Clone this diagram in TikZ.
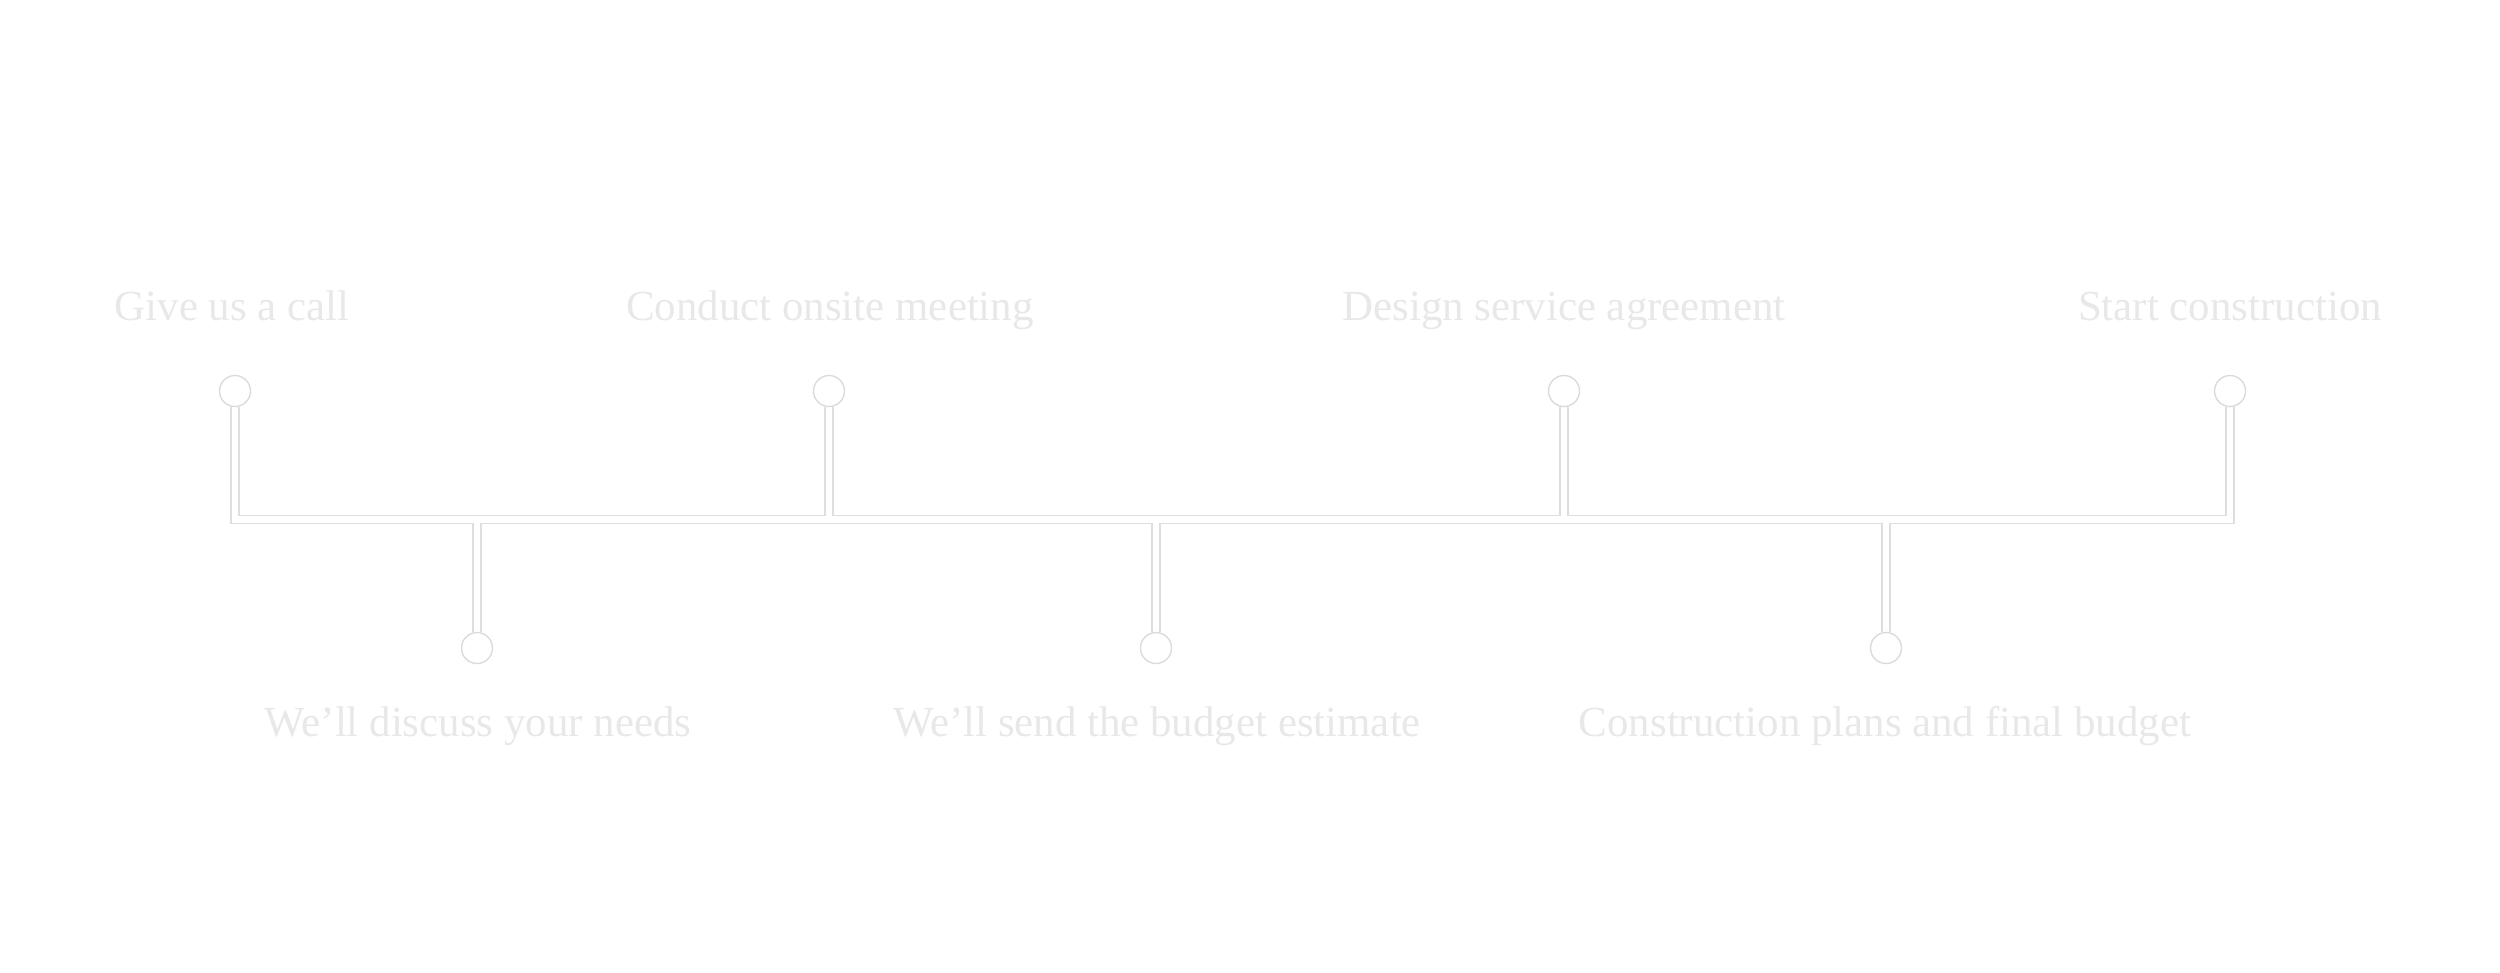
\documentclass[tikz,border=0pt]{standalone}
\usepackage{fontspec}
\setmainfont{Liberation Serif}
\usetikzlibrary{positioning, calc, backgrounds}

\begin{document}
\begin{tikzpicture}[
	x=0.01cm, y=-0.01cm,
	step label/.style={font=\fontsize{12.2}{14}\selectfont, text=black!9, anchor=base, inner sep=0pt},
	pin dot/.style={circle, draw=black!14, line width=0.4pt, fill=white, minimum size=0.31cm, inner sep=0pt},
	rail/.style={line cap=butt, line join=miter},
	]
	\useasboundingbox (0,0) rectangle (2500,972);
	
	% TOP milestones
	\node[pin dot] (call) at (235,391) {};
	\node[pin dot] (onsite) at (829,391) {};
	\node[pin dot] (agree) at (1564,391) {};
	\node[pin dot] (build) at (2230,391) {};
	
	% BOTTOM milestones
	\node[pin dot] (needs) at (477,648) {};
	\node[pin dot] (estimate) at (1156,648) {};
	\node[pin dot] (plans) at (1886,648) {};
	
	% main rail height
	\coordinate (bar) at (0,519.5);
	
	% Rails: grey edge first, then white core
	\begin{scope}[on background layer]
		\foreach \w/\c in {2.7pt/black!13, 1.9pt/white} {
			\draw[rail, line width=\w, draw=\c]
			(call.south) -- (call |- bar) -- (build |- bar) -- (build.south);
			\draw[rail, line width=\w, draw=\c] (onsite.south) -- (onsite |- bar);
			\draw[rail, line width=\w, draw=\c] (agree.south) -- (agree |- bar);
			\draw[rail, line width=\w, draw=\c] (needs |- bar) -- (needs.north);
			\draw[rail, line width=\w, draw=\c] (estimate |- bar) -- (estimate.north);
			\draw[rail, line width=\w, draw=\c] (plans |- bar) -- (plans.north);
		}
	\end{scope}
	
	% Labels
	\node[step label] (callText) at (232,320.7) {Give us a call};
	\node[step label] (onsiteText) at (830,320.7) {Conduct onsite meeting};
	\node[step label] (agreeText) at (1564,320.7) {Design service agreement};
	\node[step label] (buildText) at (2230,320.7) {Start construction};
	\node[step label] (needsText) at (478,736) {We'll discuss your needs};
	\node[step label] (estimateText) at (1157,736) {We'll send the budget estimate};
	\node[step label] (plansText) at (1885,736) {Construction plans and final budget};
	
\end{tikzpicture}
\end{document}
